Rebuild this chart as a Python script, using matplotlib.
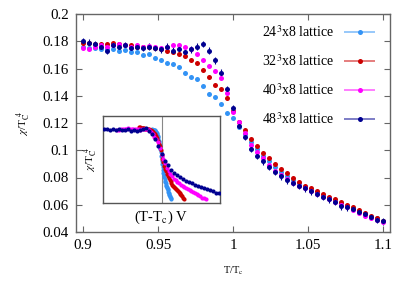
import numpy as np
import matplotlib
matplotlib.use("Agg")
import matplotlib.pyplot as plt
from matplotlib.legend_handler import HandlerErrorbar
from matplotlib.container import ErrorbarContainer

plt.rcParams['font.family'] = ['Liberation Serif', 'DejaVu Serif']
plt.rcParams['mathtext.fontset'] = 'stix'

T = [0.900, 0.904, 0.908, 0.912, 0.916, 0.920, 0.924, 0.928, 0.932, 0.936,
     0.940, 0.944, 0.948, 0.952, 0.956, 0.960, 0.964, 0.968, 0.972, 0.976,
     0.980, 0.984, 0.988, 0.992, 0.996, 1.000, 1.004, 1.008, 1.012, 1.016,
     1.020, 1.024, 1.028, 1.032, 1.036, 1.040, 1.044, 1.048, 1.052, 1.056,
     1.060, 1.064, 1.068, 1.072, 1.076, 1.080, 1.084, 1.088, 1.092, 1.096,
     1.100]

chi_24 = [0.176, 0.175, 0.175, 0.174, 0.1745, 0.174, 0.173, 0.1735, 0.172, 0.172,
          0.170, 0.1705, 0.168, 0.166, 0.164, 0.163, 0.161, 0.157, 0.154, 0.152,
          0.147, 0.141, 0.139, 0.134, 0.127, 0.124, 0.117, 0.112, 0.106, 0.101,
          0.096, 0.092, 0.088, 0.084, 0.081, 0.078, 0.076, 0.073, 0.071, 0.069,
          0.067, 0.065, 0.063, 0.061, 0.059, 0.057, 0.055, 0.053, 0.051, 0.050,
          0.048]
chi_32 = [0.179, 0.179, 0.178, 0.178, 0.178, 0.1785, 0.178, 0.177, 0.177, 0.176,
          0.176, 0.1755, 0.175, 0.174, 0.173, 0.172, 0.171, 0.169, 0.166, 0.164,
          0.159, 0.154, 0.148, 0.145, 0.138, 0.129, 0.121, 0.115, 0.108, 0.103,
          0.098, 0.094, 0.090, 0.086, 0.083, 0.080, 0.077, 0.074, 0.072, 0.070,
          0.068, 0.066, 0.064, 0.062, 0.060, 0.058, 0.056, 0.054, 0.052, 0.050,
          0.048]
chi_40 = [0.175, 0.174, 0.176, 0.177, 0.176, 0.177, 0.178, 0.177, 0.176, 0.177,
          0.176, 0.1765, 0.176, 0.175, 0.176, 0.177, 0.177, 0.1755, 0.174, 0.171,
          0.166, 0.162, 0.158, 0.153, 0.142, 0.128, 0.121, 0.113, 0.104, 0.099,
          0.094, 0.089, 0.085, 0.082, 0.079, 0.076, 0.074, 0.072, 0.070, 0.068,
          0.066, 0.064, 0.062, 0.060, 0.058, 0.056, 0.054, 0.052, 0.050, 0.049,
          0.047]
chi_48 = [0.180, 0.179, 0.178, 0.176, 0.173, 0.177, 0.176, 0.177, 0.175, 0.176,
          0.175, 0.176, 0.175, 0.174, 0.176, 0.173, 0.174, 0.172, 0.174, 0.176,
          0.178, 0.173, 0.166, 0.157, 0.145, 0.131, 0.118, 0.110, 0.101, 0.096,
          0.092, 0.088, 0.084, 0.081, 0.078, 0.076, 0.074, 0.072, 0.070, 0.068,
          0.066, 0.064, 0.062, 0.059, 0.058, 0.057, 0.055, 0.053, 0.051, 0.049,
          0.048]

err_24 = 0.0008
err_32 = 0.001
err_40 = 0.001
err_48 = 0.0025

sizes = [24, 32, 40, 48]
labels = ['24$^3$x8 lattice', '32$^3$x8 lattice', '40$^3$x8 lattice', '48$^3$x8 lattice']
colors = ['#3393f5', '#cc0000', '#ff00ff', '#000090']
series = [chi_24, chi_32, chi_40, chi_48]
errors = [err_24, err_32, err_40, err_48]

x_ticks = [0.9, 0.95, 1.0, 1.05, 1.1]
x_ticklabels = ['0.9', '0.95', '1', '1.05', '1.1']
y_ticks = [0.04, 0.06, 0.08, 0.1, 0.12, 0.14, 0.16, 0.18, 0.2]
y_ticklabels = ['0.04', '0.06', '0.08', '0.1', '0.12', '0.14', '0.16', '0.18', '0.2']

fig = plt.figure(figsize=(4.15, 2.91), dpi=100)
ax = fig.add_axes([76/415, 1-232/291, (390-76)/415, (232-14)/291])

Tarr = np.array(T)
handles = []
for n, lab, c, y, e in zip(sizes, labels, colors, series, errors):
    ax.errorbar(Tarr, y, yerr=e, fmt='o', ms=3.6, mew=0, color=c,
                ecolor=c, elinewidth=0.8, capsize=1.5, capthick=0.8, zorder=3)
    # legend sample: horizontal bar with end caps (placed outside the view)
    h = ax.errorbar([-10.0], [-10.0], xerr=[1.0], fmt='o', ms=3.6, mew=0, color=c,
                    ecolor=matplotlib.colors.to_rgba(c, 0.55), elinewidth=1.3,
                    capsize=2.5, capthick=1.0)
    handles.append(h)

ax.set_xlim(0.8953, 1.1047)
ax.set_ylim(0.04, 0.2)
ax.set_xticks(x_ticks)
ax.set_xticklabels(x_ticklabels)
ax.set_yticks(y_ticks)
ax.set_yticklabels(y_ticklabels)
ax.tick_params(direction='in', length=4, width=0.8, color='#666666',
               top=True, right=True, labelsize=10.8, pad=5)
for s in ax.spines.values():
    s.set_color('#666666')
    s.set_linewidth(1.0)

ax.set_xlabel(r'T/T$_\mathrm{c}$', fontsize=7.5, labelpad=9)
ax.set_ylabel(r'$\chi$/T$_\mathrm{C}^{\;\;4}$', fontsize=8, labelpad=7)

leg = ax.legend(handles, labels, loc='upper right', frameon=False, markerfirst=False,
                fontsize=10, handlelength=2.5, labelspacing=0.95,
                bbox_to_anchor=(0.998, 1.012), handletextpad=0.6,
                handler_map={ErrorbarContainer: HandlerErrorbar(xerr_size=1.15)})

# inset: scaled with volume
axin = fig.add_axes([103/415, 1-203/291, 117/415, 87/291])
xscale = 48**3 / 13.0
for n, c, y in zip(sizes, colors, series):
    u = (Tarr - 1.0) * n**3 / xscale
    axin.plot(u, y, 'o', ms=3.0, mew=0, color=c, zorder=3)
axin.axvline(0.0, color='#888888', lw=0.8, zorder=1)
axin.set_xlim(-1, 1)
axin.set_ylim(0.04, 0.2)
axin.set_xticks([])
axin.set_yticks([])
for s in axin.spines.values():
    s.set_color('#555555')
    s.set_linewidth(1.0)
axin.set_xlabel(r'(T-T$_\mathrm{c}$) V', fontsize=10.5, labelpad=4)
axin.set_ylabel(r'$\chi$/T$_\mathrm{C}^{\;\;4}$', fontsize=8, labelpad=2)

fig.savefig('out.png', dpi=100)
